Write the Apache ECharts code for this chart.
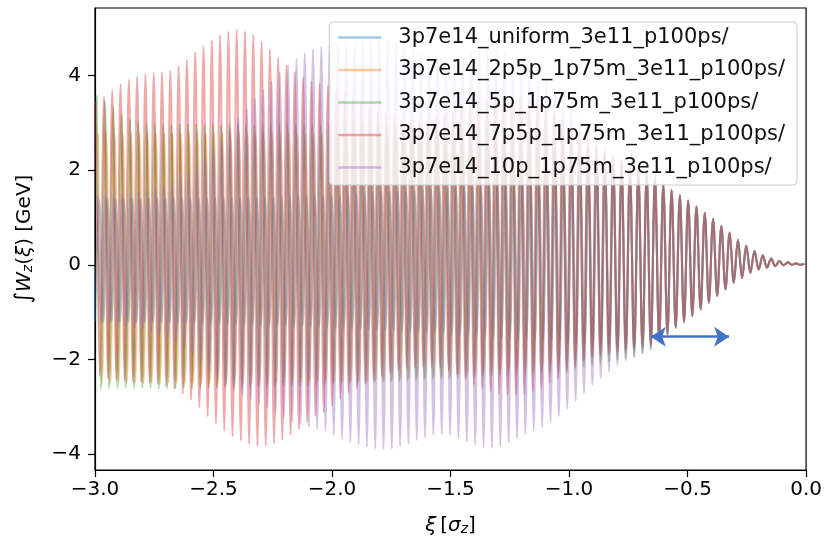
<!DOCTYPE html>
<html><head><meta charset="utf-8">
<script src="https://cdn.jsdelivr.net/npm/echarts@6/dist/echarts.min.js"></script>
<style>html,body{margin:0;padding:0;background:#fff}#c{width:825px;height:541px}</style>
</head><body><div id="c"></div>
<script>
// xi grid: cycle m has its trough at xiStart + m*period and its peak half a period later
const xiStart = -3.0;
const period = 0.035;

const seriesNames = [
  '3p7e14_uniform_3e11_p100ps/',
  '3p7e14_2p5p_1p75m_3e11_p100ps/',
  '3p7e14_5p_1p75m_3e11_p100ps/',
  '3p7e14_7p5p_1p75m_3e11_p100ps/',
  '3p7e14_10p_1p75m_3e11_p100ps/'
];
const colors = ['#1f77b4', '#ff7f0e', '#2ca02c', '#d62728', '#9467bd'];
// phase lead of each run (fraction of a period) in the head of the bunch; runs line up near the tail
const phaseLead = [0, 0.15, 0.3, 0.42, 0.22];
const alignFromCycle = 40, alignedAtCycle = 66;

// per-cycle peak (top) and trough (bottom) values, cycles 0..67 (xi -3.0 .. -0.64)
const uniformTop = [1.38,1.38,1.38,1.38,1.39,1.39,1.39,1.39,1.4,1.4,
  1.4,1.4,1.41,1.41,1.41,1.42,1.42,1.42,1.43,1.43,
  1.43,1.44,1.44,1.45,1.45,1.46,1.46,1.47,1.47,1.48,
  1.49,1.5,1.51,1.52,1.53,1.54,1.55,1.56,1.57,1.58,
  1.59,1.6,1.61,1.62,1.63,1.64,1.66,1.67,1.68,1.7,
  1.71,1.73,1.74,1.76,1.77,1.79,1.8,1.82,1.83,1.84,
  1.85,1.86,1.86,1.86,1.85,1.83,1.8,1.76];
const uniformBot = [-1.2,-1.2,-1.2,-1.2,-1.21,-1.21,-1.21,-1.22,-1.22,-1.22,
  -1.23,-1.23,-1.23,-1.24,-1.24,-1.25,-1.25,-1.26,-1.26,-1.27,
  -1.27,-1.28,-1.28,-1.29,-1.3,-1.3,-1.31,-1.32,-1.32,-1.33,
  -1.34,-1.35,-1.36,-1.37,-1.38,-1.39,-1.4,-1.41,-1.42,-1.43,
  -1.44,-1.45,-1.46,-1.47,-1.48,-1.49,-1.5,-1.51,-1.53,-1.54,
  -1.55,-1.57,-1.58,-1.6,-1.61,-1.63,-1.64,-1.66,-1.67,-1.69,
  -1.7,-1.71,-1.72,-1.73,-1.73,-1.73,-1.72,-1.68];

const p2p5Top = [2.78,2.79,2.78,2.78,2.77,2.78,2.79,2.78,2.78,2.77,
  2.78,2.78,2.79,2.78,2.77,2.78,2.78,2.79,2.78,2.78,
  2.77,2.78,2.78,2.78,2.77,2.77,2.77,2.76,2.76,2.76,
  2.76,2.75,2.75,2.75,2.74,2.74,2.73,2.73,2.72,2.71,
  2.7,2.69,2.68,2.66,2.65,2.63,2.62,2.6,2.58,2.56,
  2.54,2.52,2.5,2.48,2.46,2.43,2.41,2.38,2.35,2.32,
  2.28,2.25,2.21,2.17,2.12,2.07,2.0,1.92];
const p2p5Bot = [-2.5,-2.51,-2.5,-2.49,-2.5,-2.5,-2.51,-2.5,-2.5,-2.49,
  -2.5,-2.5,-2.5,-2.51,-2.5,-2.5,-2.49,-2.5,-2.5,-2.5,
  -2.5,-2.5,-2.49,-2.49,-2.49,-2.48,-2.48,-2.48,-2.47,-2.47,
  -2.46,-2.46,-2.45,-2.45,-2.44,-2.43,-2.42,-2.41,-2.4,-2.39,
  -2.38,-2.37,-2.35,-2.34,-2.32,-2.3,-2.28,-2.26,-2.24,-2.22,
  -2.2,-2.18,-2.16,-2.13,-2.11,-2.08,-2.06,-2.03,-2.0,-1.98,
  -1.95,-1.93,-1.9,-1.87,-1.84,-1.81,-1.78,-1.72];

const p5Top = [3.58,3.47,3.33,3.18,3.08,3.02,2.99,2.97,2.97,2.96,
  2.97,2.97,2.98,2.97,2.97,2.96,2.97,2.97,2.97,2.96,
  2.97,2.97,2.97,2.96,2.96,2.97,2.97,2.96,2.96,2.96,
  2.96,2.96,2.96,2.96,2.96,2.95,2.95,2.95,2.95,2.95,
  2.95,2.94,2.94,2.93,2.93,2.92,2.9,2.88,2.86,2.84,
  2.82,2.79,2.76,2.73,2.69,2.65,2.6,2.55,2.5,2.45,
  2.4,2.34,2.28,2.22,2.15,2.08,2.0,1.9];
const p5Bot = [-2.54,-2.64,-2.62,-2.61,-2.61,-2.6,-2.61,-2.61,-2.62,-2.61,
  -2.61,-2.6,-2.61,-2.61,-2.6,-2.6,-2.6,-2.6,-2.59,-2.59,
  -2.58,-2.58,-2.57,-2.57,-2.56,-2.55,-2.55,-2.54,-2.53,-2.52,
  -2.52,-2.51,-2.5,-2.49,-2.49,-2.48,-2.47,-2.46,-2.45,-2.44,
  -2.43,-2.42,-2.41,-2.4,-2.39,-2.38,-2.37,-2.36,-2.35,-2.34,
  -2.33,-2.32,-2.31,-2.3,-2.29,-2.27,-2.25,-2.22,-2.19,-2.16,
  -2.12,-2.09,-2.05,-2.02,-1.98,-1.94,-1.88,-1.8];

const p7p5Top = [3.45,3.55,3.7,3.82,3.92,3.98,4.03,4.06,4.07,4.1,
  4.2,4.34,4.5,4.62,4.75,4.86,4.93,4.96,4.94,4.86,
  4.72,4.55,4.38,4.22,4.08,3.96,3.88,3.83,3.78,3.72,
  3.65,3.56,3.46,3.36,3.27,3.2,3.14,3.1,3.07,3.06,
  3.07,3.1,3.15,3.22,3.3,3.38,3.45,3.5,3.55,3.57,
  3.57,3.55,3.5,3.42,3.32,3.2,3.07,2.93,2.8,2.66,
  2.53,2.41,2.3,2.2,2.1,2.01,1.92,1.84];
const p7p5Bot = [-2.3,-2.35,-2.4,-2.43,-2.45,-2.47,-2.48,-2.5,-2.52,-2.56,
  -2.63,-2.73,-2.86,-3.02,-3.2,-3.36,-3.5,-3.63,-3.72,-3.79,
  -3.83,-3.83,-3.78,-3.7,-3.6,-3.48,-3.33,-3.2,-3.12,-2.98,
  -2.84,-2.72,-2.62,-2.52,-2.43,-2.36,-2.29,-2.23,-2.19,-2.17,
  -2.16,-2.16,-2.18,-2.24,-2.32,-2.43,-2.54,-2.61,-2.67,-2.72,
  -2.75,-2.75,-2.73,-2.68,-2.6,-2.5,-2.4,-2.28,-2.15,-2.03,
  -1.95,-1.9,-1.86,-1.83,-1.8,-1.76,-1.72,-1.68];

const p10Top = [1.45,1.46,1.47,1.48,1.5,1.52,1.55,1.6,1.66,1.74,
  1.84,1.96,2.1,2.26,2.44,2.64,2.86,3.1,3.3,3.5,
  3.7,3.88,4.06,4.22,4.36,4.48,4.56,4.61,4.64,4.67,
  4.7,4.72,4.74,4.75,4.75,4.73,4.68,4.62,4.55,4.48,
  4.42,4.38,4.36,4.37,4.42,4.48,4.53,4.56,4.55,4.5,
  4.4,4.28,4.16,4.05,3.9,3.72,3.52,3.3,3.08,2.86,
  2.66,2.48,2.32,2.2,2.1,2.02,1.94,1.86];
const p10Bot = [-1.25,-1.26,-1.27,-1.28,-1.3,-1.32,-1.35,-1.4,-1.46,-1.54,
  -1.64,-1.76,-1.9,-2.06,-2.23,-2.4,-2.55,-2.67,-2.75,-2.85,
  -2.94,-3.04,-3.13,-3.22,-3.31,-3.38,-3.43,-3.47,-3.52,-3.6,
  -3.69,-3.75,-3.8,-3.85,-3.89,-3.9,-3.89,-3.84,-3.78,-3.71,
  -3.65,-3.6,-3.58,-3.6,-3.66,-3.74,-3.81,-3.86,-3.87,-3.84,
  -3.76,-3.66,-3.58,-3.52,-3.44,-3.33,-3.2,-3.05,-2.88,-2.72,
  -2.55,-2.4,-2.26,-2.13,-2.03,-1.95,-1.86,-1.77];

// shared tail where all runs coincide, cycles 68..85 (xi -0.62 .. 0)
const tailTop = [1.7,1.58,1.47,1.36,1.23,1.1,0.97,0.82,0.68,0.53,0.4,0.29,0.2,0.13,0.08,0.05,0.03,0.02];
const tailBot = [-1.6,-1.47,-1.33,-1.21,-1.08,-0.94,-0.8,-0.66,-0.52,-0.38,-0.28,-0.17,-0.1,-0.06,-0.03,-0.01,0.0,0.0];

const xTicks = [-3.0, -2.5, -2.0, -1.5, -1.0, -0.5, 0.0];
const yTicks = [-4, -2, 0, 2, 4];
// annotation arrow (xi range, height in GeV)
const arrowXi = [-0.655, -0.325];
const arrowY = -1.52;

const tops = [uniformTop, p2p5Top, p5Top, p7p5Top, p10Top];
const bots = [uniformBot, p2p5Bot, p5Bot, p7p5Bot, p10Bot];

function buildSeriesData(top, bot, lead) {
  const out = [];
  const allTop = top.concat(tailTop);
  const allBot = bot.concat(tailBot);
  for (let m = 0; m < allTop.length; m++) {
    let w = 1;
    if (m >= alignedAtCycle) w = 0;
    else if (m > alignFromCycle) w = (alignedAtCycle - m) / (alignedAtCycle - alignFromCycle);
    const x0 = xiStart + (m - lead * w) * period;
    if (x0 >= xiStart) out.push([x0, allBot[m]]);
    out.push([x0 + period / 2, allTop[m]]);
  }
  return out;
}

const FONT = 'DejaVu Sans';
const minus = v => (v < 0 ? '\u2212' : '') + Math.abs(v);

const series = seriesNames.map((name, i) => {
  const s = {
    name: name,
    type: 'line',
    data: buildSeriesData(tops[i], bots[i], phaseLead[i]),
    symbol: 'none',
    smooth: 0.35,
    clip: true,
    lineStyle: { width: 2.1, color: colors[i], opacity: 0.4 },
    itemStyle: { color: colors[i], opacity: 0.4 },
    emphasis: { disabled: true },
    silent: true
  };
  if (i === seriesNames.length - 1) {
    s.markLine = {
      silent: true,
      symbol: ['arrow', 'arrow'],
      symbolSize: 15,
      label: { show: false },
      lineStyle: { color: '#4472C4', width: 2.5, type: 'solid', opacity: 1 },
      emphasis: { disabled: true },
      data: [[{ coord: [arrowXi[0], arrowY] }, { coord: [arrowXi[1], arrowY] }]]
    };
  }
  return s;
});

const chart = echarts.init(document.getElementById('c'), null, { renderer: 'canvas' });
chart.setOption({
  animation: false,
  backgroundColor: '#fff',
  textStyle: { fontFamily: FONT },
  grid: { left: 95, right: 18, top: 8, bottom: 69, show: true, borderColor: '#000', borderWidth: 1.2, backgroundColor: 'transparent' },
  legend: {
    orient: 'vertical',
    right: 28, top: 22,
    icon: 'rect',
    itemWidth: 43, itemHeight: 2.5, itemGap: 9.5,
    padding: [4, 12, 6, 9],
    backgroundColor: 'rgba(255,255,255,0.8)',
    borderColor: '#cccccc', borderWidth: 1, borderRadius: 4,
    itemStyle: { opacity: 0.4 },
    textStyle: { fontFamily: FONT, fontSize: 21, color: '#111', lineHeight: 23, padding: [0, 0, 0, 12] },
    data: seriesNames
  },
  xAxis: {
    type: 'value', min: xTicks[0], max: xTicks[xTicks.length - 1], interval: 0.5,
    name: '{i|ξ} {n|[}{i|σ}{s|z}{n|]}',
    nameLocation: 'middle', nameGap: 40,
    nameTextStyle: {
      rich: {
        n: { fontFamily: FONT, fontSize: 20, color: '#000', lineHeight: 26, verticalAlign: 'bottom' },
        i: { fontFamily: FONT, fontSize: 20, fontStyle: 'italic', color: '#000', lineHeight: 26, verticalAlign: 'bottom' },
        s: { fontFamily: FONT, fontSize: 14, fontStyle: 'italic', color: '#000', lineHeight: 14, verticalAlign: 'bottom' }
      }
    },
    axisLine: { show: true, onZero: false, lineStyle: { color: '#000', width: 1.2 } },
    axisTick: { show: true, inside: false, length: 7, lineStyle: { color: '#000', width: 1.2 } },
    axisLabel: { fontFamily: FONT, fontSize: 20, color: '#000', margin: 10,
      formatter: v => minus(Number(v)) === '0' ? '0.0' : (v < 0 ? '\u2212' : '') + Math.abs(v).toFixed(1) },
    splitLine: { show: false }
  },
  yAxis: {
    type: 'value', min: -4.34, max: 5.43,
    name: '{a|∫}{i|W}{s|z}{n|(}{i|ξ}{n|) [GeV]}',
    nameLocation: 'middle', nameGap: 60,
    nameTextStyle: {
      rich: {
        a: { fontFamily: FONT, fontSize: 22, color: '#000', lineHeight: 26, verticalAlign: 'bottom' },
        n: { fontFamily: FONT, fontSize: 20, color: '#000', lineHeight: 26, verticalAlign: 'bottom' },
        i: { fontFamily: FONT, fontSize: 20, fontStyle: 'italic', color: '#000', lineHeight: 26, verticalAlign: 'bottom' },
        s: { fontFamily: FONT, fontSize: 14, fontStyle: 'italic', color: '#000', lineHeight: 14, verticalAlign: 'bottom' }
      }
    },
    axisLine: { show: true, onZero: false, lineStyle: { color: '#000', width: 1.2 } },
    axisTick: { show: true, inside: false, length: 7, customValues: yTicks, lineStyle: { color: '#000', width: 1.2 } },
    axisLabel: { fontFamily: FONT, fontSize: 20, color: '#000', margin: 14, customValues: yTicks,
      formatter: v => minus(Math.round(Number(v))) },
    splitLine: { show: false }
  },
  series: series
});
</script>
</body></html>
